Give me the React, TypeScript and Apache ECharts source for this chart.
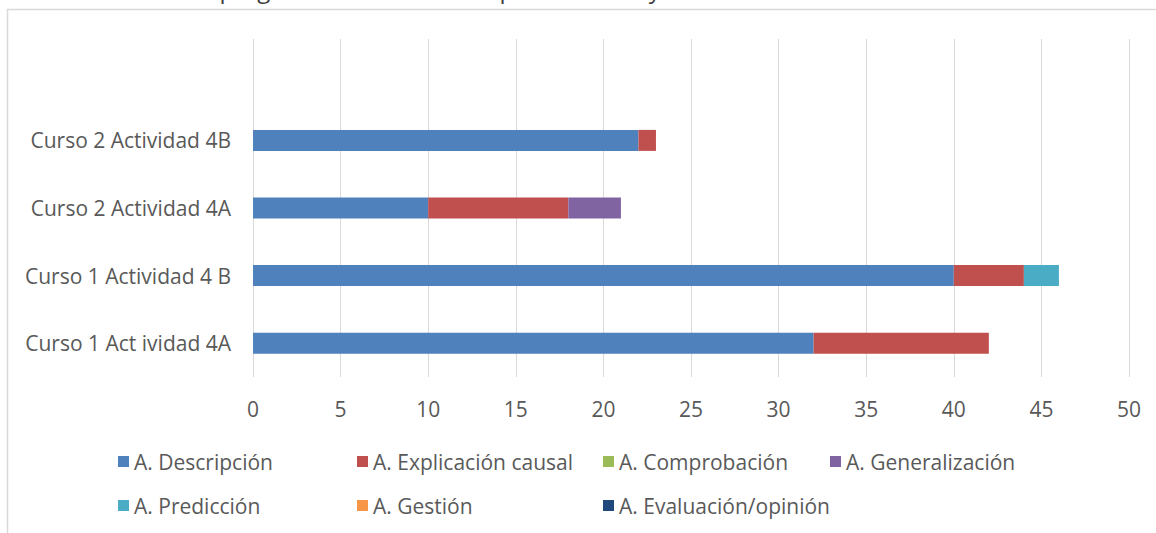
import React, { useEffect, useRef } from "react";
import * as echarts from "echarts";

const categories = [
  "Curso 1 Act ividad 4A",
  "Curso 1 Actividad 4 B",
  "Curso 2 Actividad 4A",
  "Curso 2 Actividad 4B",
  "",
];

const seriesNames = [
  "A. Descripción",
  "A. Explicación causal",
  "A. Comprobación",
  "A. Generalización",
  "A. Predicción",
  "A. Gestión",
  "A. Evaluación/opinión",
];

const descripcion = [32, 40, 10, 22];
const explicacion = [10, 4, 8, 1];
const comprobacion = [0, 0, 0, 0];
const generalizacion = [0, 0, 3, 0];
const prediccion = [0, 2, 0, 0];
const gestion = [0, 0, 0, 0];
const evaluacion = [0, 0, 0, 0];

const seriesValues = [
  descripcion,
  explicacion,
  comprobacion,
  generalizacion,
  prediccion,
  gestion,
  evaluacion,
];

const colors = ["#4F81BD", "#C0504D", "#9BBB59", "#8064A2", "#4BACC6", "#F79646", "#1F497D"];

const xTicks = { min: 0, max: 50, interval: 5 };

const titleText = "Clasificación de las preguntas del alumnado para Curso 1 y Curso 2";

const FONT = "'Open Sans', 'DejaVu Sans', sans-serif";

const legendPos = [
  { left: 118, top: 451 },
  { left: 357, top: 451 },
  { left: 603, top: 451 },
  { left: 830, top: 451 },
  { left: 118, top: 495 },
  { left: 357, top: 495 },
  { left: 603, top: 495 },
];

export default function App() {
  const ref = useRef<HTMLDivElement>(null);
  useEffect(() => {
    if (!ref.current) return;
    const chart = echarts.init(ref.current, null, { renderer: "svg" });
    chart.setOption({
      animation: false,
      color: colors,
      textStyle: { fontFamily: FONT },
      graphic: [
        {
          type: "rect",
          shape: { x: 7.5, y: 9.5, width: 1300, height: 700 },
          style: { fill: "none", stroke: "#d9d9d9", lineWidth: 1.5 },
          silent: true,
        },
        {
          type: "text",
          left: 4,
          top: -24,
          style: { text: titleText, fontSize: 24, fill: "#404040", fontFamily: FONT },
          silent: true,
        },
      ],
      grid: { left: 253, right: 27, top: 39, bottom: 533 - 377, containLabel: false },
      xAxis: {
        type: "value",
        min: xTicks.min,
        max: xTicks.max,
        interval: xTicks.interval,
        axisLine: { show: false },
        axisTick: { show: false },
        splitLine: { show: true, lineStyle: { color: "#d9d9d9", width: 1 } },
        axisLabel: { color: "#595959", fontSize: 21, margin: 21, fontFamily: FONT },
      },
      yAxis: {
        type: "category",
        data: categories,
        axisLine: { show: false },
        axisTick: { show: false },
        splitLine: { show: false },
        axisLabel: { color: "#595959", fontSize: 21, margin: 22, fontFamily: FONT },
      },
      legend: seriesNames.map((n, i) => ({
        data: [n],
        left: legendPos[i].left,
        top: legendPos[i].top,
        padding: 0,
        itemWidth: 11,
        itemHeight: 11,
        itemGap: 6,
        icon: "rect",
        selectedMode: false,
        textStyle: { color: "#595959", fontSize: 21, fontFamily: FONT },
      })),
      series: seriesNames.map((n, i) => ({
        name: n,
        type: "bar",
        stack: "total",
        barWidth: 21,
        data: seriesValues[i],
        itemStyle: { color: colors[i] },
      })),
    });
    return () => chart.dispose();
  }, []);
  return (
    <div
      ref={ref}
      style={{ position: "fixed", left: 0, top: 0, width: 1156, height: 533, background: "#fff" }}
    />
  );
}
